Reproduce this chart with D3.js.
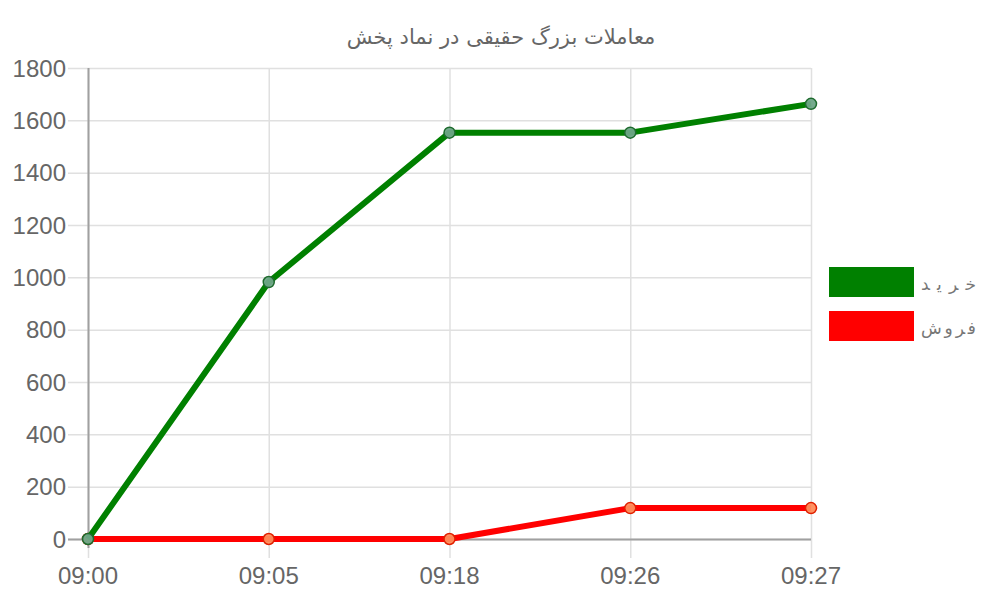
<!DOCTYPE html>
<html><head><meta charset="utf-8">
<script src="https://cdn.jsdelivr.net/npm/d3@7"></script>
<style>body{margin:0;background:#fff}svg{display:block}</style>
</head><body>
<svg id="c" width="1000" height="600"></svg>
<script>
const title = "معاملات بزرگ حقیقی در نماد پخش";
const categories = ["09:00","09:05","09:18","09:26","09:27"];
const buyValues = [0, 982, 1553, 1553, 1663];
const sellValues = [0, 0, 0, 118, 118];
const seriesNames = ["خرید","فروش"];
const yTicks = [0,200,400,600,800,1000,1200,1400,1600,1800];

const svg = d3.select("#c");
const x = d3.scalePoint().domain(categories).range([88, 811]);
const y = d3.scaleLinear().domain([0,1800]).range([539, 68]);
const font = "'Liberation Sans', Arial, sans-serif";

// grid
svg.append("g").selectAll("line").data(yTicks).join("line")
  .attr("x1", 68).attr("x2", 811)
  .attr("y1", d=>y(d)+0.5).attr("y2", d=>y(d)+0.5)
  .attr("stroke", "#e0e0e0").attr("stroke-width",1.5);
svg.append("g").selectAll("line").data(categories).join("line")
  .attr("x1", d=>x(d)+0.5).attr("x2", d=>x(d)+0.5)
  .attr("y1", 68).attr("y2", 558)
  .attr("stroke", "#e0e0e0").attr("stroke-width",1.5);

// axes lines
svg.append("line").attr("x1",88.5).attr("x2",88.5).attr("y1",68).attr("y2",548)
  .attr("stroke","#a0a0a0").attr("stroke-width",2);
svg.append("line").attr("x1",68).attr("x2",811).attr("y1",539.5).attr("y2",539.5)
  .attr("stroke","#a0a0a0").attr("stroke-width",2);

// y labels
svg.append("g").selectAll("text").data(yTicks).join("text")
  .attr("x", 66).attr("y", d=>y(d)+8.5)
  .attr("text-anchor","end").attr("font-family",font).attr("font-size",24)
  .attr("fill","#666").text(d=>d);
// x labels
svg.append("g").selectAll("text").data(categories).join("text")
  .attr("x", d=>x(d)).attr("y", 584)
  .attr("text-anchor","middle").attr("font-family",font).attr("font-size",24)
  .attr("fill","#666").text(d=>d);

// title
svg.append("text").attr("x",501).attr("y",44).attr("text-anchor","middle")
  .attr("font-family","'DejaVu Sans', sans-serif").attr("font-size",21).attr("fill","#666")
  .attr("direction","rtl").text(title);

const series = [
  {name: seriesNames[0], values: buyValues, color:"#008000", pfill:"rgba(110,165,135,0.95)", pstroke:"#1e6b2e"},
  {name: seriesNames[1], values: sellValues, color:"#ff0000", pfill:"rgba(255,140,90,0.95)", pstroke:"#e02000"}
];
const line = d3.line().x((d,i)=>x(categories[i])).y(d=>y(d));
// draw sell first, then buy on top
series.slice().reverse().forEach(s=>{
  svg.append("path").datum(s.values).attr("d",line).attr("fill","none")
    .attr("stroke",s.color).attr("stroke-width",6).attr("stroke-linejoin","round");
  svg.append("g").selectAll("circle").data(s.values).join("circle")
    .attr("cx",(d,i)=>x(categories[i])).attr("cy",d=>y(d)).attr("r",5.5)
    .attr("fill",s.pfill).attr("stroke",s.pstroke).attr("stroke-width",1.5);
});

// legend
series.forEach((s,i)=>{
  svg.append("rect").attr("x",829).attr("y",267+i*44).attr("width",85).attr("height",30)
    .attr("fill",s.color);
  svg.append("text").attr("x",976).attr("y",290+i*44).attr("text-anchor","start")
    .attr("direction","rtl").attr("font-family","'DejaVu Sans', sans-serif")
    .attr("font-size",17).attr("fill","#777")
    .attr("textLength",55).attr("lengthAdjust","spacing").text(s.name);
});
</script>
</body></html>
